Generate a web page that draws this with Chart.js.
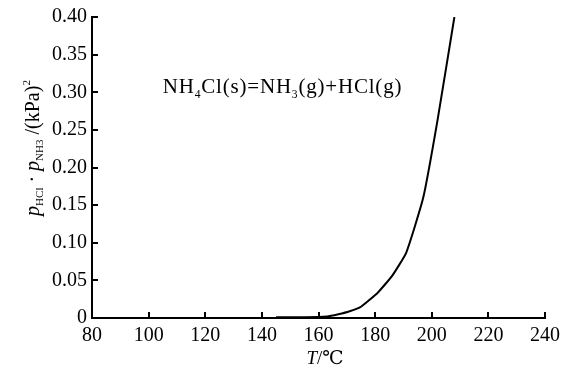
<!DOCTYPE html>
<html>
<head>
<meta charset="utf-8">
<script src="https://cdn.jsdelivr.net/npm/chart.js@4/dist/chart.umd.min.js"></script>
<style>
  html, body { margin: 0; padding: 0; background: #fff; }
  #wrap { width: 586px; height: 386px; }
</style>
</head>
<body>
<div id="wrap"><canvas id="myChart" width="586" height="386"></canvas></div>
<script>
// data
var temps = [145, 155, 163, 167, 171, 175, 181, 186, 191, 197, 202, 208];
var kValues = [0.001, 0.001, 0.002, 0.005, 0.009, 0.015, 0.034, 0.056, 0.087, 0.160, 0.262, 0.400];
var xTicks = [80, 100, 120, 140, 160, 180, 200, 220, 240];
var yTicks = [0, 0.05, 0.10, 0.15, 0.20, 0.25, 0.30, 0.35, 0.40];
var reactionNote = { x: 105, y: 0.308 };

var serif = "'Liberation Serif', 'DejaVu Serif', serif";
var points = temps.map((t, i) => ({ x: t, y: kValues[i] }));

// draw runs of text with italic / subscript / superscript parts
function richWidth(ctx, parts, size) {
  var w = 0;
  parts.forEach((p) => {
    var s = p.sub || p.sup ? size * 0.55 : size;
    ctx.font = (p.i ? "italic " : "") + s + "px " + serif;
    w += ctx.measureText(p.t).width;
  });
  return w;
}
function drawRich(ctx, parts, x, y, size) {
  parts.forEach((p) => {
    var s = p.sub || p.sup ? size * 0.55 : size;
    ctx.font = (p.i ? "italic " : "") + s + "px " + serif;
    var dy = p.sub ? size * 0.22 : p.sup ? -size * 0.45 : 0;
    ctx.fillText(p.t, x, y + dy);
    x += ctx.measureText(p.t).width;
  });
}

var extras = {
  id: "extras",
  afterDraw(chart) {
    var ctx = chart.ctx;
    var xs = chart.scales.x, ys = chart.scales.y;
    var bottom = ys.getPixelForValue(0), left = xs.getPixelForValue(80);
    ctx.save();
    ctx.strokeStyle = "#000";
    ctx.lineWidth = 2;
    // inward ticks
    xTicks.forEach((v) => {
      var px = Math.round(xs.getPixelForValue(v));
      ctx.beginPath();
      ctx.moveTo(px, bottom);
      ctx.lineTo(px, bottom - 6);
      ctx.stroke();
    });
    yTicks.forEach((v) => {
      var py = Math.round(ys.getPixelForValue(v));
      ctx.beginPath();
      ctx.moveTo(left, py);
      ctx.lineTo(left + 6, py);
      ctx.stroke();
    });
    ctx.fillStyle = "#000";
    ctx.textBaseline = "alphabetic";
    // reaction note
    var note = [
      { t: "NH" }, { t: "4", sub: 1 }, { t: "Cl(s)=NH" }, { t: "3", sub: 1 }, { t: "(g)+HCl(g)" }
    ];
    ctx.letterSpacing = "0.8px";
    drawRich(ctx, note, xs.getPixelForValue(reactionNote.x), ys.getPixelForValue(reactionNote.y) + 7, 21);
    ctx.letterSpacing = "0px";
    // x title
    var xt = [{ t: "T", i: 1 }, { t: "/℃" }];
    var xw = richWidth(ctx, xt, 19);
    drawRich(ctx, xt, 325 - xw / 2, 364, 19);
    // y title, rotated
    var yt = [
      { t: "p", i: 1 }, { t: "HCl", sub: 1 }, { t: " · " }, { t: "p", i: 1 }, { t: "NH", sub: 1 },
      { t: "3", sub: 1 }, { t: " /(kPa)" }, { t: "2", sup: 1 }
    ];
    var yw = richWidth(ctx, yt, 20);
    ctx.translate(39, 148);
    ctx.rotate(-Math.PI / 2);
    drawRich(ctx, yt, -yw / 2, 0, 20);
    ctx.restore();
  }
};

new Chart("myChart", {
  type: "line",
  data: {
    datasets: [
      {
        data: points,
        borderColor: "#000",
        borderWidth: 2,
        pointRadius: 0,
        tension: 0.15,
        fill: false,
      },
    ],
  },
  options: {
    responsive: false,
    animation: false,
    events: [],
    layout: { padding: { top: 16, right: 41, left: 0, bottom: 0 } },
    plugins: { legend: { display: false }, tooltip: { enabled: false } },
    scales: {
      x: {
        type: "linear",
        min: 80,
        max: 240,
        afterFit: (s) => { s.height = 68; },
        afterBuildTicks: (s) => { s.ticks = xTicks.map((v) => ({ value: v })); },
        grid: { display: false, drawTicks: false },
        border: { display: true, color: "#000", width: 2 },
        ticks: {
          color: "#000",
          padding: 6,
          font: { family: serif, size: 20 },
          maxRotation: 0,
        },
      },
      y: {
        min: 0,
        max: 0.4,
        afterFit: (s) => { s.width = 92; },
        afterBuildTicks: (s) => { s.ticks = yTicks.map((v) => ({ value: v })); },
        grid: { display: false, drawTicks: false },
        border: { display: true, color: "#000", width: 2 },
        ticks: {
          color: "#000",
          padding: 5,
          font: { family: serif, size: 20 },
          callback: (v) => (v === 0 ? "0" : v.toFixed(2)),
        },
      },
    },
  },
  plugins: [extras],
});
</script>
</body>
</html>
